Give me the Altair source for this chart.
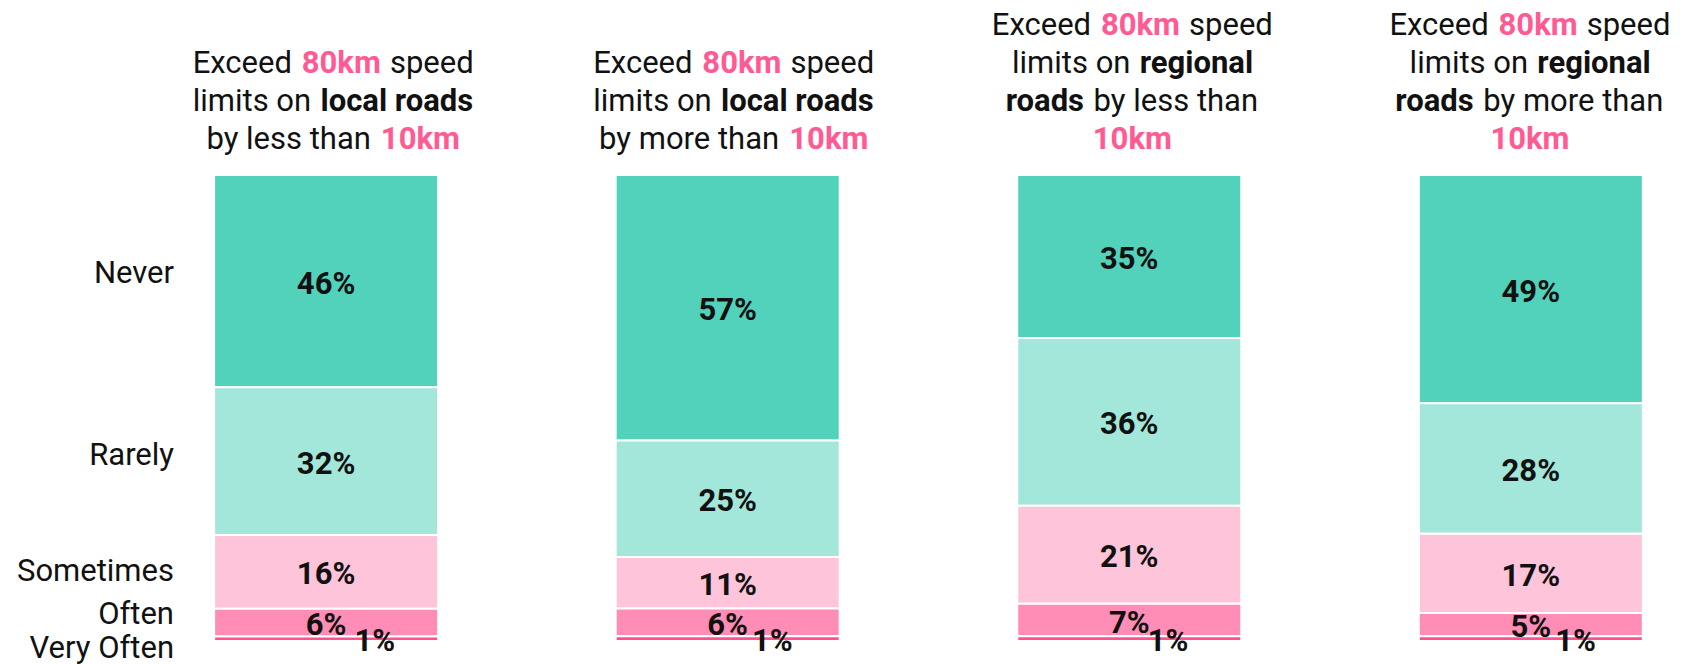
import altair as alt
import pandas as pd

# ---------------- data ----------------
categories = ["Never", "Rarely", "Sometimes", "Often", "Very Often"]
cat_colors = ["#52D1BB", "#A3E7DA", "#FEC4DA", "#FF8DB5", "#FF4F8E"]
bar_ids = [0, 1, 2, 3]
never = [46, 57, 35, 49]
rarely = [32, 25, 36, 28]
sometimes = [16, 11, 21, 17]
often = [6, 6, 7, 5]
very_often = [1, 1, 1, 1]

# title segments per bar: lines top->bottom, (text, style)  r=regular, b=bold, p=bold pink
titles = [
    [[("Exceed", "r"), ("80km", "p"), ("speed", "r")],
     [("limits on", "r"), ("local roads", "b")],
     [("by less than", "r"), ("10km", "p")]],
    [[("Exceed", "r"), ("80km", "p"), ("speed", "r")],
     [("limits on", "r"), ("local roads", "b")],
     [("by more than", "r"), ("10km", "p")]],
    [[("Exceed", "r"), ("80km", "p"), ("speed", "r")],
     [("limits on", "r"), ("regional", "b")],
     [("roads", "b"), ("by less than", "r")],
     [("10km", "p")]],
    [[("Exceed", "r"), ("80km", "p"), ("speed", "r")],
     [("limits on", "r"), ("regional", "b")],
     [("roads", "b"), ("by more than", "r")],
     [("10km", "p")]],
]

# ---------------- layout constants ----------------
FONT = "Roboto"
FS = 31
W, H = 1665, 466
PAD_TOP, PAD_BOTTOM = 167, 23
FIRST_CENTER = 323 - 8   # plot-area px of first bar centre
STEP = 404
D0 = (0 - FIRST_CENTER) / STEP
D1 = (W - FIRST_CENTER) / STEP
PINK = "#FF5A93"
INK = "#111111"
title_shift = [7, 6, 3, -1]
vo_dx = [49, 45, 39, 45]
label_nudge = {"Never": -9, "Rarely": -7, "Sometimes": -1.5, "Often": -9.5, "Very Often": 9}
LINE_H = 38
LAST_LINE = -36.5
GAP_EM = 0.30
REG_SCALE = 1.03
BOLD_SCALE = 1.02

REG_W = {' ': 507, 'E': 1165, 'x': 993, 'c': 1046, 'e': 1059, 'd': 1125, 's': 1032,
         'p': 1120, 'l': 486, 'i': 486, 'm': 1751, 't': 654, 'o': 1141, 'n': 1104,
         'b': 1120, 'y': 968, 'h': 1102, 'a': 1088, 'r': 678, 'g': 1123, 'k': 1013}
BOLD_W = {' ': 496, '0': 1150, '1': 1150, '8': 1150, 'k': 1070, 'm': 1768, 'l': 528,
          'o': 1143, 'c': 1064, 'a': 1082, 'r': 722, 'd': 1130, 's': 1052, 'e': 1081,
          'g': 1138, 'i': 528, 'n': 1120}


def text_w(t, bold):
    tbl = BOLD_W if bold else REG_W
    k = BOLD_SCALE if bold else REG_SCALE
    return sum(tbl.get(ch, 1100) for ch in t) / 2048 * FS * k


# ---------------- tables ----------------
series = [never, rarely, sometimes, often, very_often]
rows = []
for ci, (cat, vals) in enumerate(zip(categories, series)):
    for b, v in zip(bar_ids, vals):
        rows.append({"idx": b, "cat": cat, "order": ci, "value": v})
df = pd.DataFrame(rows)

trows = []
space = GAP_EM * FS
for b, lines in zip(bar_ids, titles):
    n = len(lines)
    for li, segs in enumerate(lines):
        k = n - 1 - li
        ws = [text_w(t, s != "r") for t, s in segs]
        total = sum(ws) + space * (len(segs) - 1)
        left = -total / 2 + title_shift[b]
        for (t, s), w in zip(segs, ws):
            trows.append({
                "text": t,
                "bold": s != "r",
                "col": PINK if s == "p" else INK,
                "xv": b + left / STEP,
                "yv": (LAST_LINE - LINE_H * k) / H,
            })
            left += w + space
tdf = pd.DataFrame(trows)

xscale = alt.Scale(domain=[D0, D1], nice=False, zero=False)
yscale = alt.Scale(domain=[0, 1], reverse=True, nice=False, zero=False)

base = alt.Chart(df).transform_joinaggregate(
    total="sum(value)", groupby=["idx"]
).transform_calculate(
    frac="datum.value / datum.total"
).transform_stack(
    stack="frac", groupby=["idx"], as_=["y0", "y1"],
    sort=[alt.SortField("order", order="ascending")]
).transform_calculate(
    mid="(datum.y0 + datum.y1) / 2"
)

bars = base.mark_bar(size=224, stroke="white", strokeWidth=2).encode(
    x=alt.X("idx:Q", scale=xscale, axis=None),
    y=alt.Y("y0:Q", scale=yscale, axis=None),
    y2="y1:Q",
    color=alt.Color("cat:N", scale=alt.Scale(domain=categories, range=cat_colors), legend=None),
)

vo_expr = "[" + ",".join(str(v) for v in vo_dx) + "]"
pct = base.transform_calculate(
    xl=f"datum.idx + (datum.cat == 'Very Often' ? {vo_expr}[datum.idx] : 0) / {STEP}",
    lab="datum.value + '%'",
).mark_text(font=FONT, fontSize=FS, fontWeight="bold", color=INK, dy=3.5).encode(
    x=alt.X("xl:Q", scale=xscale),
    y=alt.Y("mid:Q", scale=yscale),
    text="lab:N",
)

nudge_expr = "{" + ",".join(f"'{k}': {v}" for k, v in label_nudge.items()) + "}"
ylabels = base.transform_filter("datum.idx == 0").transform_calculate(
    yl=f"datum.mid + {nudge_expr}[datum.cat] / {H}"
).mark_text(font=FONT, fontSize=FS, color=INK, align="right", dy=1.7).encode(
    x=alt.value(166),
    y=alt.Y("yl:Q", scale=yscale),
    text="cat:N",
)

title_reg = alt.Chart(tdf).transform_filter("!datum.bold").mark_text(
    font=FONT, fontSize=FS, align="left", dy=1.7
).encode(
    x=alt.X("xv:Q", scale=xscale),
    y=alt.Y("yv:Q", scale=yscale),
    text="text:N",
    color=alt.Color("col:N", scale=None),
)
title_bold = alt.Chart(tdf).transform_filter("datum.bold").mark_text(
    font=FONT, fontSize=FS, fontWeight="bold", align="left", dy=1.7
).encode(
    x=alt.X("xv:Q", scale=xscale),
    y=alt.Y("yv:Q", scale=yscale),
    text="text:N",
    color=alt.Color("col:N", scale=None),
)

chart = alt.layer(bars, pct, ylabels, title_reg, title_bold).properties(
    width=W, height=H,
    autosize=alt.AutoSizeParams(type="none"),
    padding={"left": 0, "top": PAD_TOP, "right": 0, "bottom": PAD_BOTTOM},
).configure_view(stroke=None).resolve_scale(color="independent")

chart.save("out.html", embed_options={"renderer": "svg", "actions": False})
